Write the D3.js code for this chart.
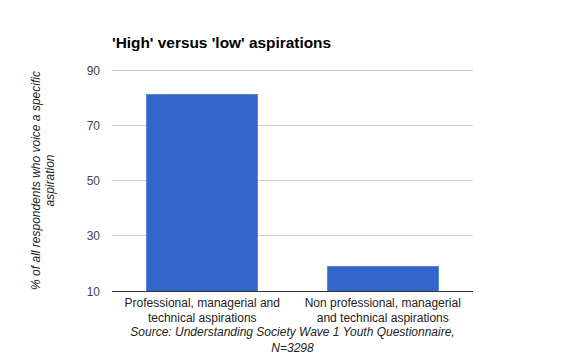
<!DOCTYPE html>
<html><head><meta charset="utf-8">
<script src="https://cdn.jsdelivr.net/npm/d3@7"></script>
<style>body{margin:0;background:#fff;} text{font-family:Arial,"Liberation Sans",sans-serif;}</style>
</head><body><svg id="c" width="585" height="361"></svg>
<script>
const categories = [["Professional, managerial and", "technical aspirations"], ["Non professional, managerial", "and technical aspirations"]];
const values = [81, 19];
const yTicks = [10, 30, 50, 70, 90];
const title = "'High' versus 'low' aspirations";
const yTitle = ["% of all respondents who voice a specific", "aspiration"];
const source = ["Source: Understanding Society Wave 1 Youth Questionnaire,", "N=3298"];

const svg = d3.select("#c");
const m = {l:112, r:473, t:70, b:291};
const x = d3.scaleBand().domain(d3.range(categories.length)).range([m.l, m.r]).paddingInner(0.385).paddingOuter(0.1925);
const y = d3.scaleLinear().domain([10, 90]).range([m.b, m.t]);

svg.append("text").attr("x", 112).attr("y", 48).attr("font-size", 15.4).attr("font-weight", "bold").attr("fill", "#000").text(title);

const g = svg.append("g");
g.selectAll("line.grid").data(yTicks.filter(d=>d!==10)).join("line")
  .attr("x1", m.l).attr("x2", m.r).attr("y1", d=>y(d)).attr("y2", d=>y(d))
  .attr("stroke", "#cccccc").attr("stroke-width", 1).attr("shape-rendering","crispEdges");

g.selectAll("text.tick").data(yTicks).join("text")
  .attr("x", 100).attr("y", d=>y(d)+4.5).attr("text-anchor","end").attr("font-size", 12).attr("fill","#444").text(d=>d);

g.selectAll("rect").data(values).join("rect")
  .attr("x", (d,i)=>x(i)).attr("width", x.bandwidth())
  .attr("y", d=>y(d)).attr("height", d=>y(10)-y(d))
  .attr("fill", "#3366cc").attr("stroke","#5c85d6").attr("stroke-width",1).attr("shape-rendering","crispEdges");

g.append("line").attr("x1", m.l).attr("x2", m.r).attr("y1", y(10)).attr("y2", y(10))
  .attr("stroke","#333").attr("stroke-width",1).attr("shape-rendering","crispEdges");

categories.forEach((lines,i)=>{
  lines.forEach((t,j)=>{
    svg.append("text").attr("x", x(i)+x.bandwidth()/2).attr("y", 306.5+j*15).attr("text-anchor","middle")
      .attr("font-size", 12).attr("fill","#222").text(t);
  });
});

source.forEach((t,j)=>{
  svg.append("text").attr("x", (m.l+m.r)/2).attr("y", 336+j*15.5).attr("text-anchor","middle")
    .attr("font-size", 12).attr("font-style","italic").attr("fill","#222").text(t);
});

yTitle.forEach((t,j)=>{
  svg.append("text").attr("transform", `translate(${39.5+j*14},${(m.t+m.b)/2}) rotate(-90)`)
    .attr("text-anchor","middle").attr("font-size", 12).attr("font-style","italic").attr("fill","#222").text(t);
});
</script></body></html>
